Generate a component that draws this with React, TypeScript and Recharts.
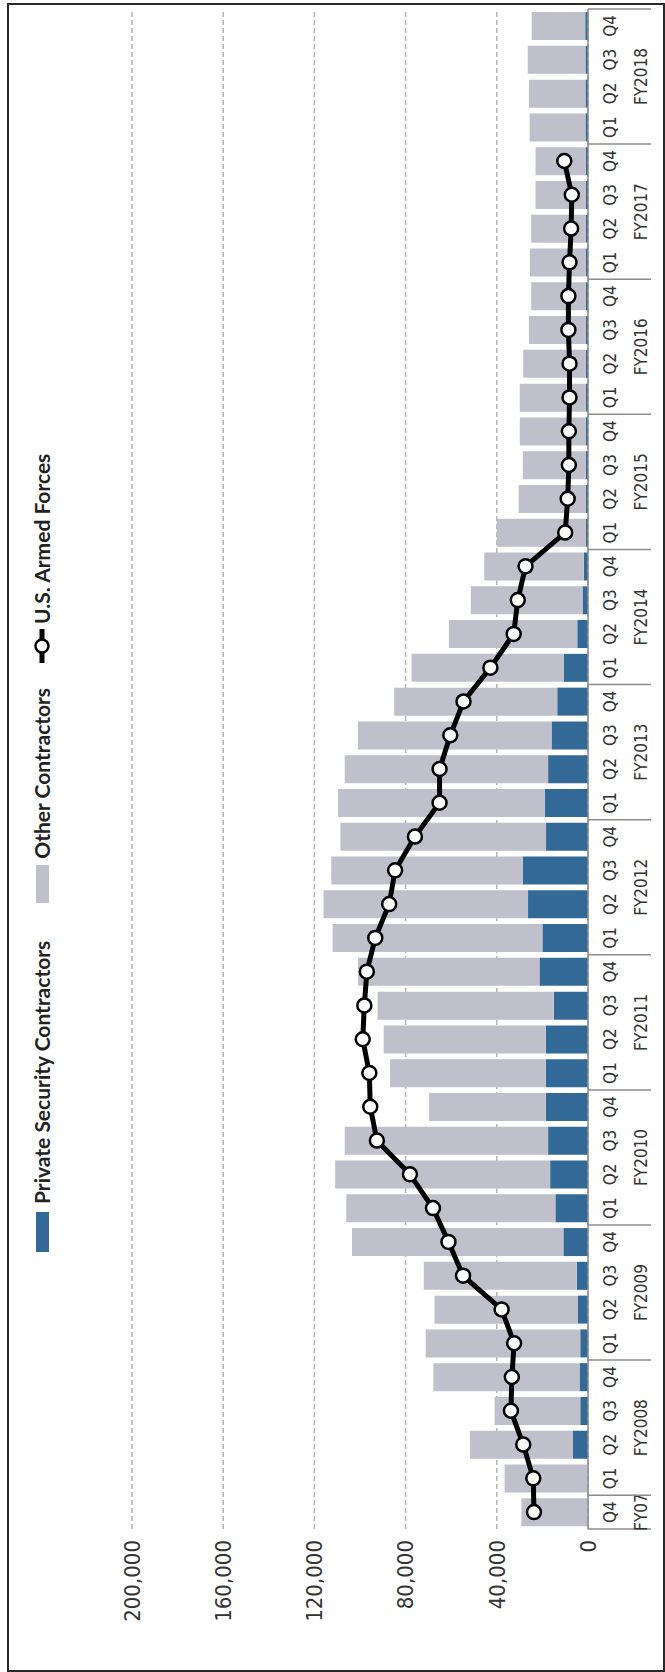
import React from "react";
import { ComposedChart, Bar, Line, XAxis, YAxis, CartesianGrid } from "recharts";

const QUARTERS = ["Q4",
  "Q1","Q2","Q3","Q4","Q1","Q2","Q3","Q4","Q1","Q2","Q3","Q4","Q1","Q2","Q3","Q4",
  "Q1","Q2","Q3","Q4","Q1","Q2","Q3","Q4","Q1","Q2","Q3","Q4","Q1","Q2","Q3","Q4",
  "Q1","Q2","Q3","Q4","Q1","Q2","Q3","Q4","Q1","Q2","Q3","Q4"];
const YEARS = ["FY07",
  "FY2008","FY2008","FY2008","FY2008","FY2009","FY2009","FY2009","FY2009",
  "FY2010","FY2010","FY2010","FY2010","FY2011","FY2011","FY2011","FY2011",
  "FY2012","FY2012","FY2012","FY2012","FY2013","FY2013","FY2013","FY2013",
  "FY2014","FY2014","FY2014","FY2014","FY2015","FY2015","FY2015","FY2015",
  "FY2016","FY2016","FY2016","FY2016","FY2017","FY2017","FY2017","FY2017",
  "FY2018","FY2018","FY2018","FY2018"];
const PRIVATE_SECURITY = [0,
  0, 6600, 3400, 3700, 3400, 4400, 4900, 10800,
  14300, 16600, 17500, 18500, 18500, 18500, 15000, 21300,
  20000, 26300, 28600, 18400, 19000, 17500, 16000, 13500,
  10700, 4700, 2400, 1800, 1000, 1000, 1000, 1000,
  900, 900, 900, 900, 900, 900, 900, 900,
  1100, 1100, 1100, 1200];
const OTHER_CONTRACTORS = [29200,
  36600, 45200, 37600, 64100, 67800, 62900, 67100, 92700,
  91700, 94300, 89200, 51200, 68300, 71100, 77300, 79600,
  92000, 89700, 84000, 90200, 90600, 89200, 84900, 71500,
  66700, 56300, 49000, 43700, 39000, 29400, 27600, 28900,
  29000, 27500, 25000, 24000, 24600, 24000, 22100, 22100,
  24500, 24800, 25300, 23500];
const ARMED_FORCES: (number | null)[] = [23700,
  24000, 28400, 33800, 33400, 32400, 37900, 54800, 61200,
  68000, 78100, 92600, 95500, 95900, 98800, 98100, 97000,
  93300, 87200, 84600, 75900, 65100, 65100, 60400, 54600,
  42800, 32600, 30800, 27400, 10000, 8900, 8400, 8400,
  8100, 8100, 8600, 8600, 8100, 7400, 7100, 10400,
  null, null, null, null];
const VALUE_TICKS = [0, 40000, 80000, 120000, 160000, 200000];

const data = QUARTERS.map((q, i) => ({
  key: YEARS[i] + "-" + q,
  psc: PRIVATE_SECURITY[i],
  other: OTHER_CONTRACTORS[i],
  troops: ARMED_FORCES[i],
}));

const W = 1672;
const H = 665;
const M_TOP = 132;
const M_RIGHT = 9;
const Y_W = 143;
const X_H = 77;
const PLOT_W = W - M_RIGHT - Y_W;
const PLOT_BOTTOM = H - X_H;
const N = QUARTERS.length;

const BLUE = "#326996";
const GRAY = "#c0c0cc";
const NARROW = "'Liberation Sans Narrow','DejaVu Sans Condensed','Liberation Sans',Arial,sans-serif";

function CategoryTick(props: any) {
  const { x, payload } = props;
  const i: number = props.index ?? payload.index;
  const band = PLOT_W / N;
  const fy = YEARS[i];
  let first = i;
  while (first > 0 && YEARS[first - 1] === fy) first--;
  let last = i;
  while (last < N - 1 && YEARS[last + 1] === fy) last++;
  const isFirst = i === first;
  const groupCenter = x + ((first + last) / 2 - i) * band;
  return (
    <g>
      <text x={x} y={PLOT_BOTTOM + 22} textAnchor="middle" dy="0.35em" fontFamily={NARROW} fontSize={17} fill="#333">
        {QUARTERS[i]}
      </text>
      {isFirst && (
        <line x1={x - band / 2} x2={x - band / 2} y1={PLOT_BOTTOM} y2={PLOT_BOTTOM + 63} stroke="#8c8c8c" strokeWidth={1.5} />
      )}
      {i === N - 1 && (
        <line x1={x + band / 2} x2={x + band / 2} y1={PLOT_BOTTOM} y2={PLOT_BOTTOM + 63} stroke="#8c8c8c" strokeWidth={1.5} />
      )}
      {isFirst && (
        <text x={groupCenter} y={PLOT_BOTTOM + 53} textAnchor="middle" dy="0.35em" fontFamily={NARROW} fontSize={17} fill="#333">
          {fy}
        </text>
      )}
    </g>
  );
}

function Legend() {
  const font: React.CSSProperties = {
    fontFamily: "Lato, 'Open Sans', sans-serif",
    fontWeight: 700,
    fontSize: 21,
    color: "#222",
    whiteSpace: "nowrap",
    lineHeight: "24px",
  };
  return (
    <div style={{ position: "absolute", left: 420, top: 30, display: "flex", alignItems: "center", ...font }}>
      <div style={{ width: 40, height: 13, background: BLUE, marginRight: 8 }} />
      <span style={{ marginRight: 38 }}>Private Security Contractors</span>
      <div style={{ width: 38, height: 13, background: GRAY, marginRight: 6 }} />
      <span style={{ marginRight: 24 }}>Other Contractors</span>
      <svg width={36} height={20} style={{ marginRight: 4 }}>
        <line x1={1} x2={35} y1={10} y2={10} stroke="#000" strokeWidth={5} />
        <circle cx={18} cy={10} r={6.5} fill="#fff" stroke="#000" strokeWidth={2.5} />
      </svg>
      <span>U.S. Armed Forces</span>
    </div>
  );
}

export default function App() {
  return (
    <div style={{ position: "absolute", left: 0, top: 0, width: 665, height: 1672, overflow: "hidden", background: "#fff" }}>
      <div style={{ position: "absolute", left: 7, top: 3, width: 654, height: 1665, border: "2px solid #2a2a2a" }} />
      <div
        style={{
          position: "absolute",
          left: 0,
          top: 0,
          width: W,
          height: H,
          transformOrigin: "0 0",
          transform: `translateY(${W}px) rotate(-90deg)`,
        }}
      >
        <Legend />
        <ComposedChart
          width={W}
          height={H}
          data={data}
          margin={{ top: M_TOP, right: M_RIGHT, bottom: 0, left: 0 }}
          barCategoryGap="8%"
        >
          <CartesianGrid vertical={false} stroke="#b4b4b4" strokeDasharray="5 3" strokeWidth={1.5} />
          <XAxis
            dataKey="key"
            height={X_H}
            interval={0}
            tickLine={false}
            axisLine={{ stroke: "#8c8c8c", strokeWidth: 1.5 }}
            tick={<CategoryTick />}
          />
          <YAxis
            width={Y_W}
            domain={[0, 200000]}
            ticks={VALUE_TICKS}
            interval={0}
            tickLine={false}
            axisLine={false}
            tickSize={0}
            tickMargin={11}
            tick={{ fontFamily: NARROW, fontSize: 22, fill: "#333" }}
            tickFormatter={(v: number) => v.toLocaleString("en-US")}
          />
          <Bar dataKey="psc" stackId="a" fill={BLUE} isAnimationActive={false} />
          <Bar dataKey="other" stackId="a" fill={GRAY} isAnimationActive={false} />
          <Line
            dataKey="troops"
            stroke="#000"
            strokeWidth={5}
            dot={{ r: 7, fill: "#fff", stroke: "#000", strokeWidth: 2.5 }}
            connectNulls={false}
            isAnimationActive={false}
          />
        </ComposedChart>
      </div>
    </div>
  );
}
